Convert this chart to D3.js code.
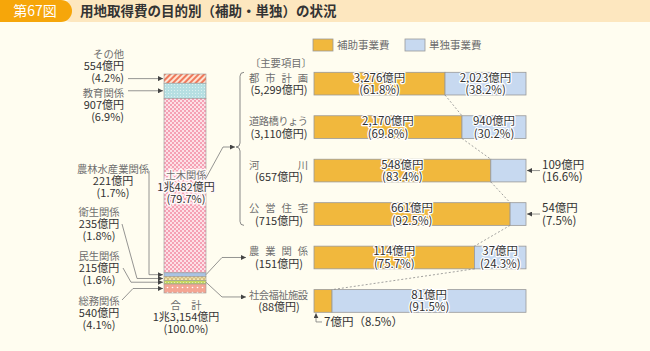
<!DOCTYPE html>
<html><head><meta charset="utf-8">
<script src="https://cdn.jsdelivr.net/npm/d3@7"></script>
<style>
body{margin:0;background:#fffdf0;}
svg{display:block;font-family:"Noto Sans CJK JP","Noto Sans",sans-serif;}
</style></head><body>
<svg width="650" height="351"></svg>
<script>
// 目的別（左の積み上げ棒）
const purposeNames = ["その他", "教育関係", "土木関係", "農林水産業関係", "衛生関係", "民生関係", "総務関係"];
const purposeAmounts = [554, 907, 10482, 221, 235, 215, 540];
const purposeShares = [4.2, 6.9, 79.7, 1.7, 1.8, 1.6, 4.1];
const purposeTotal = 13154;

// 主要項目（右の横棒）
const items = ["都市計画", "道路橋りょう", "河川", "公営住宅", "農業関係", "社会福祉施設"];
const itemTotals = [5299, 3110, 657, 715, 151, 88];
const hojo = [3276, 2170, 548, 661, 114, 7];
const hojoPct = [61.8, 69.8, 83.4, 92.5, 75.7, 8.5];
const tandoku = [2023, 940, 109, 54, 37, 81];
const tandokuPct = [38.2, 30.2, 16.6, 7.5, 24.3, 91.5];
const legendNames = ["補助事業費", "単独事業費"];

const svg = d3.select("svg");
const gray = "#6e6e6e", dark = "#333", lineCol = "#7a7a7a";
const orange = "#f1b83d", blue = "#c7d9f0";

const fmt = d3.format(",");
const oku = v => v >= 10000 ? Math.floor(v / 10000) + "兆" + fmt(v % 10000) + "億円" : fmt(v) + "億円";
const pct = p => "(" + d3.format(".1f")(p) + "%)";

// patterns
const defs = svg.append("defs");
function pat(id, w, h, bg) {
  const p = defs.append("pattern").attr("id", id).attr("patternUnits", "userSpaceOnUse")
    .attr("width", w).attr("height", h);
  p.append("rect").attr("width", w).attr("height", h).attr("fill", bg);
  return p;
}
let p = pat("pStripe", 4, 4, "#fde3d3").attr("patternTransform", "rotate(45)");
p.append("rect").attr("width", 2).attr("height", 4).attr("fill", "#f07a5c");
p = pat("pEdu", 3, 3, "#b6dfe2");
p.append("rect").attr("width", 1).attr("height", 1).attr("fill", "#dcf1f1");
p = pat("pCivil", 4, 4, "#f5a1b4");
p.append("rect").attr("width", 2).attr("height", 2).attr("fill", "#fde0e6");
p.append("rect").attr("x", 2).attr("y", 2).attr("width", 2).attr("height", 2).attr("fill", "#fde0e6");
p = pat("pHealth", 4, 4, "#f3e6b4");
p.append("path").attr("d", "M0,4 L2,0 L4,4").attr("fill", "none").attr("stroke", "#c4a65e").attr("stroke-width", 0.8);
p = pat("pWelfare", 3, 3, "#c6d85e");
p.append("rect").attr("width", 1).attr("height", 1).attr("fill", "#e2ecae");
p = pat("pGen", 5, 5, "#f4a593");
p.append("circle").attr("cx", 2.5).attr("cy", 2.5).attr("r", 0.8).attr("fill", "#fff");
const fills = ["url(#pStripe)", "url(#pEdu)", "url(#pCivil)", "#a9c3e3", "url(#pHealth)", "url(#pWelfare)", "url(#pGen)"];

defs.append("marker").attr("id", "arr").attr("viewBox", "0 0 6 6")
  .attr("refX", 6).attr("refY", 3).attr("markerWidth", 5).attr("markerHeight", 5)
  .attr("markerUnits", "userSpaceOnUse").attr("orient", "auto")
  .append("path").attr("d", "M0,0 L6,3 L0,6 Z").attr("fill", "#444");

// header
svg.append("rect").attr("x", 60).attr("y", 0).attr("width", 600).attr("height", 22).attr("rx", 11).attr("fill", "#fde7bf");
svg.append("rect").attr("x", -20).attr("y", 0).attr("width", 92).attr("height", 22).attr("rx", 11).attr("fill", "#f6a60a");
svg.append("text").attr("x", 35).attr("y", 16).attr("text-anchor", "middle").attr("fill", "#fff")
  .attr("font-size", 14).text("第67図");
svg.append("text").attr("x", 80).attr("y", 16).attr("fill", dark).attr("font-size", 13.5).attr("font-weight", "bold")
  .text("用地取得費の目的別（補助・単独）の状況");

// stacked bar
const yS = d3.scaleLinear().domain([0, purposeTotal]).range([74, 293]);
const bx0 = 164, bx1 = 206;
const cum = d3.cumsum(purposeAmounts);
const segs = purposeAmounts.map((v, i) => ({ v, i, y0: yS(cum[i] - v), y1: yS(cum[i]) }));
svg.append("g").selectAll("rect").data(segs).join("rect")
  .attr("x", bx0).attr("width", bx1 - bx0)
  .attr("y", d => d.y0).attr("height", d => d.y1 - d.y0)
  .attr("fill", d => fills[d.i]).attr("stroke", "#9a9a9a").attr("stroke-width", 0.6);
const mid = i => (segs[i].y0 + segs[i].y1) / 2;

function label(g, x, y, anchor, lines, halo) {
  const t = g.append("text").attr("text-anchor", anchor).attr("font-size", 11);
  lines.forEach((l, k) => {
    const s = t.append("tspan").attr("x", x).attr("y", y + k * 12).attr("fill", k === 0 ? gray : dark).text(l);
    if (k === 0) s.attr("font-size", 10.3);
  });
  if (halo) t.attr("stroke", halo).attr("stroke-width", 3).attr("paint-order", "stroke").attr("stroke-linejoin", "round");
  return t;
}

// left labels: [anchor, x, firstBaseline, leader start, elbow x]
const leftLayout = [
  ["end", 124, 58, [128, 78], null],
  ["end", 124, 97, [128, 93], null],
  null,
  ["middle", 113, 173, [149, 171], 149],
  ["middle", 99, 216, [122, 224], 137],
  ["middle", 99, 260, [123, 268], 131],
  ["middle", 99, 305, [122, 300], 133]
];
const lg = svg.append("g");
purposeNames.forEach((n, i) => {
  const L = leftLayout[i];
  if (!L) return;
  label(lg, L[1], L[2], L[0], [n, oku(purposeAmounts[i]), pct(purposeShares[i])]);
  const pts = [L[3]];
  if (L[4] !== null) pts.push([L[4], mid(i)]);
  else pts[0] = [L[3][0], mid(i)];
  pts.push([bx0 - 1, mid(i)]);
  lg.append("path").attr("d", d3.line()(pts)).attr("fill", "none")
    .attr("stroke", lineCol).attr("stroke-width", 0.8).attr("marker-end", "url(#arr)");
});
// 土木 label inside
label(svg, (bx0 + bx1) / 2 + 1, 179, "middle", [purposeNames[2], oku(purposeAmounts[2]), pct(purposeShares[2])], "#fff8f8");
// total
label(svg, (bx0 + bx1) / 2 + 1, 309, "middle", ["合　計", oku(purposeTotal), "(100.0%)"]);

// right bars
const x = d3.scaleLinear().domain([0, 100]).range([314, 526]);
const y = d3.scaleBand().domain(items).range([72.3, 312.3]).paddingInner(0.478).paddingOuter(0);
const bw = y.bandwidth();
const rg = svg.append("g");
rg.selectAll("rect.h").data(items).join("rect").attr("class", "h")
  .attr("x", x(0)).attr("y", d => y(d)).attr("height", bw)
  .attr("width", (d, i) => x(hojoPct[i]) - x(0))
  .attr("fill", orange).attr("stroke", "#999").attr("stroke-width", 0.8);
rg.selectAll("rect.t").data(items).join("rect").attr("class", "t")
  .attr("x", (d, i) => x(hojoPct[i])).attr("y", d => y(d)).attr("height", bw)
  .attr("width", (d, i) => x(100) - x(hojoPct[i]))
  .attr("fill", blue).attr("stroke", "#999").attr("stroke-width", 0.8);

// dotted connectors
for (let i = 0; i < items.length - 1; i++) {
  rg.append("line")
    .attr("x1", x(hojoPct[i])).attr("y1", y(items[i]) + bw)
    .attr("x2", x(hojoPct[i + 1])).attr("y2", y(items[i + 1]))
    .attr("stroke", "#8a8a8a").attr("stroke-width", 0.8).attr("stroke-dasharray", "2,2");
}

function barText(cx, cy, lines) {
  const t = rg.append("text").attr("text-anchor", "middle").attr("font-size", 11.5).attr("fill", dark)
    .attr("stroke", "#fff").attr("stroke-width", 2.5).attr("paint-order", "stroke").attr("stroke-linejoin", "round");
  lines.forEach((l, k) => t.append("tspan").attr("x", cx).attr("y", cy - 2 + k * 12.5).text(l));
}
items.forEach((n, i) => {
  const cy = y(n) + bw / 2;
  if (hojoPct[i] >= 20) barText((x(0) + x(hojoPct[i])) / 2, cy, [oku(hojo[i]), pct(hojoPct[i])]);
  else {
    rg.append("path").attr("d", d3.line()([[322, cy + 21], [x(0) + 2, cy + 21], [x(0) + 2, cy + bw / 2 + 1]]))
      .attr("fill", "none").attr("stroke", lineCol).attr("stroke-width", 0.8).attr("marker-end", "url(#arr)");
    rg.append("text").attr("x", 324).attr("y", cy + 25).attr("font-size", 11.5).attr("fill", dark)
      .text(oku(hojo[i]) + "（" + d3.format(".1f")(hojoPct[i]) + "%）");
  }
  if (tandokuPct[i] >= 20) barText((x(hojoPct[i]) + x(100)) / 2, cy, [oku(tandoku[i]), pct(tandokuPct[i])]);
  else {
    rg.append("line").attr("x1", 540).attr("x2", x(100) + 1).attr("y1", cy).attr("y2", cy)
      .attr("stroke", lineCol).attr("stroke-width", 0.8).attr("marker-end", "url(#arr)");
    const t = rg.append("text").attr("font-size", 11.5).attr("fill", dark);
    t.append("tspan").attr("x", 542).attr("y", cy - 2).text(oku(tandoku[i]));
    t.append("tspan").attr("x", 542).attr("y", cy + 10.5).text(pct(tandokuPct[i]));
  }
  // category labels
  rg.append("text").attr("x", 249).attr("y", cy - 2).attr("font-size", 10.3).attr("fill", gray)
    .attr("textLength", 59).attr("lengthAdjust", "spacing").text(n);
  rg.append("text").attr("x", 279).attr("y", cy + 10.5).attr("text-anchor", "middle").attr("font-size", 11)
    .attr("fill", dark).text("(" + oku(itemTotals[i]) + ")");
});
rg.append("text").attr("x", 250).attr("y", 67).attr("font-size", 10.3).attr("fill", gray).text("〔主要項目〕");

// brace
const bt = y(items[0]), bb = y(items[3]) + bw, bm = 147;
svg.append("path").attr("d", `M244,${bt} Q240,${bt} 240,${bt + 4} L240,${bm - 4} Q240,${bm} 236,${bm} Q240,${bm} 240,${bm + 4} L240,${bb - 4} Q240,${bb} 244,${bb}`)
  .attr("fill", "none").attr("stroke", lineCol).attr("stroke-width", 0.9);

// connectors from stacked bar
const conn = [
  [[206, 178], [223, bm], [235, bm]],
  [[bx1, mid(3)], [222, y(items[4]) + bw / 2], [246, y(items[4]) + bw / 2]],
  [[bx1, mid(5)], [222, y(items[5]) + bw / 2 - 4], [246, y(items[5]) + bw / 2 - 4]]
];
conn.forEach(c => svg.append("path").attr("d", d3.line()(c)).attr("fill", "none")
  .attr("stroke", lineCol).attr("stroke-width", 0.8).attr("marker-end", "url(#arr)"));

// legend
const leg = svg.append("g").selectAll("g").data(legendNames).join("g")
  .attr("transform", (d, i) => `translate(${313 + i * 92},39)`);
leg.append("rect").attr("width", 20).attr("height", 12).attr("fill", (d, i) => i ? blue : orange)
  .attr("stroke", "#999").attr("stroke-width", 0.8);
leg.append("text").attr("x", 24).attr("y", 10).attr("font-size", 10.5).attr("fill", gray).text(d => d);
</script>
</body></html>
